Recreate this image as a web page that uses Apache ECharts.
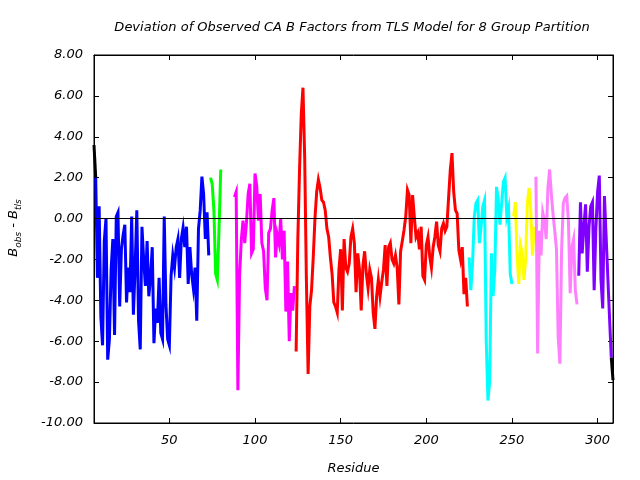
<!DOCTYPE html>
<html><head><meta charset="utf-8">
<script src="https://cdn.jsdelivr.net/npm/echarts@6/dist/echarts.min.js"></script>
<style>html,body{margin:0;padding:0;background:#fff}#c{width:640px;height:480px}</style>
</head><body><div id="c"></div>
<script>
const titleText = 'Deviation of Observed CA B Factors from TLS Model for 8 Group Partition';
const xName = 'Residue';
const xTickValues = [50, 100, 150, 200, 250, 300];
const xMin = 6, xMax = 309;
const yMin = -10, yMax = 8, yStep = 2;

const blackStartRes = 6;
const blackStartVals = [3.6, 2.0];
const blueStart = 7;
const blueVals = [2.0, -2.9, 0.6, -4.8, -6.2, -1.1, 0.0, -6.9, -5.9, -2.5, -1.0, -5.7,
  0.1, 0.3, -4.3, -1.5, -0.8, -0.3, -4.1, -2.4, -3.6, 0.1, -4.7, -2.4, 0.4, -5.0, -6.4,
  -0.4, -2.0, -3.3, -1.1, -3.8, -2.9, -1.4, -6.1, -4.4, -5.1, -2.9, -5.6, -5.9, 0.1,
  -4.2, -5.9, -6.2, -2.8, -1.8, -2.4, -1.4, -1.0, -2.9, -1.0, -0.45, -1.4, -0.4, -3.2,
  -1.4, -2.7, -3.4, -2.4, -5.0, -0.5, 0.4, 2.05, 1.2, -1.0, 0.3, -1.8];
const greenStart = 74;
const greenVals = [2.0, 1.7, 0.4, -2.7, -3.0, -0.5, 2.4];
const magentaStart = 88;
const magentaVals = [1.05, 1.3, -8.4, -2.8, -1.05, -0.1, -1.2, -0.2, 1.2, 1.7, -1.7, -1.5,
  2.2, 1.6, -0.1, 1.2, -1.2, -1.6, -3.4, -4.0, -0.7, -0.5, 0.4, 1.0, -1.9, -0.8, -1.2,
  0.0, -2.0, -0.6, -4.55, -2.1, -6.0, -3.65, -4.5, -3.3];
const redStart = 124;
const redVals = [-6.5, -1.0, 2.4, 5.1, 6.4, 3.0, -3.0, -7.6, -4.3, -3.5, -1.9, 0.0, 1.3,
  1.9, 1.5, 0.9, 0.8, 0.4, -0.5, -0.9, -1.9, -2.7, -4.1, -4.3, -4.6, -2.5, -1.5, -4.5,
  -1.0, -2.4, -2.6, -2.2, -0.9, -0.5, -1.2,
  -3.6, -1.7, -2.5, -4.5, -2.3, -1.6, -2.7, -3.4, -2.5, -2.9, -4.6, -5.4, -3.8, -3.0,
  -3.8, -3.1, -2.5, -1.3, -3.3, -1.4, -1.2, -2.0, -2.2, -1.8, -2.4, -4.2, -1.6, -1.1,
  -0.56, 0.1, 1.4, 1.15, -1.2, 1.15, 0.09, -0.9, -0.7, -1.5, -0.4, -2.8, -3.0, -1.3,
  -0.9, -1.85, -2.4, -1.4, -0.9, -0.15, -1.3, -1.6, -0.48, -0.24, -0.6, -0.4, 1.0, 2.37,
  3.2, 1.3, 0.41, 0.25, -1.54, -2.0, -1.4, -3.7, -2.9, -4.3];
const cyanStart = 225;
const cyanVals = [-1.9, -3.5, -2.2, 0.1, 0.75, 0.9, -1.2, -0.4, 0.6, 0.9, -6.0, -8.9, -8.0,
  -1.7, -3.8, -2.5, 1.55, 0.9, -0.3, 0.75, 1.8, 2.0, 0.1, 0.5, -2.7, -3.2];
const yellowStart = 251;
const yellowVals = [0.1, 0.8, -1.8, -3.2, -1.3, -1.7, -3.0, -2.0, 0.75, 1.5, 0.4, -1.8, -0.4];
const pinkStart = 264;
const pinkVals = [2.05, -6.6, -0.6, -1.8, 0.3, -0.1, -1.0, 1.5, 2.4, 1.2, 0.2, -0.6, -1.5,
  -5.8, -7.1, -1.5, 0.75, 1.0, 1.1, -0.2, -3.65, -1.4, -1.0, -3.5, -4.2];
const purpleStart = 289;
const purpleVals = [-2.8, 0.8, -1.7, -0.4, 0.7, -2.6, -0.4, 0.6, 0.8, -3.5, -0.5, 1.3, 2.1,
  -3.0, -4.4, 1.1, -0.9, -2.9, -4.9, -6.8];
const blackEndRes = 308;
const blackEndVals = [-6.8, -7.9];

const groups = [
  {name: 'ungrouped start', start: blackStartRes, vals: blackStartVals, color: '#000000'},
  {name: 'group 1', start: blueStart, vals: blueVals, color: '#0000ff'},
  {name: 'group 2', start: greenStart, vals: greenVals, color: '#00ff00'},
  {name: 'group 3', start: magentaStart, vals: magentaVals, color: '#ff00ff'},
  {name: 'group 4', start: redStart, vals: redVals, color: '#ff0000'},
  {name: 'group 5', start: cyanStart, vals: cyanVals, color: '#00ffff'},
  {name: 'group 6', start: yellowStart, vals: yellowVals, color: '#ffff00'},
  {name: 'group 7', start: pinkStart, vals: pinkVals, color: '#ff80ff'},
  {name: 'group 8', start: purpleStart, vals: purpleVals, color: '#8000ff'},
  {name: 'ungrouped end', start: blackEndRes, vals: blackEndVals, color: '#000000'}
];

const FONT = 'DejaVu Sans';
const labelStyle = {fontFamily: FONT, fontStyle: 'italic', fontSize: 13, color: '#000'};

const series = groups.map((g) => ({
  name: g.name,
  type: 'line',
  step: 'end',
  data: g.vals.map((v, i) => [g.start + i, v]),
  showSymbol: false,
  symbol: 'none',
  lineStyle: {color: g.color, width: 3, cap: 'butt', join: 'miter'},
  itemStyle: {color: g.color},
  animation: false,
  silent: true,
  z: 3
}));
series.unshift({
  name: 'zero', type: 'line', data: [], silent: true, animation: false, z: 2,
  markLine: {
    silent: true, symbol: ['none', 'none'], animation: false,
    label: {show: false},
    lineStyle: {color: '#000', width: 1, type: 'solid'},
    data: [{yAxis: 0}]
  }
});

const chart = echarts.init(document.getElementById('c'), null, {renderer: 'canvas'});
const tickInside = {show: true, inside: true, length: 5, lineStyle: {color: '#000', width: 1}};
chart.setOption({
  backgroundColor: '#ffffff',
  animation: false,
  title: {
    text: titleText, left: 352, top: 21, textAlign: 'center', padding: 0,
    textStyle: {fontFamily: FONT, fontStyle: 'italic', fontWeight: 'normal', fontSize: 13, color: '#000'}
  },
  grid: {left: 94, right: 27, top: 55, bottom: 57, show: true, borderColor: '#000', borderWidth: 1, backgroundColor: 'transparent', containLabel: false},
  xAxis: [{
    type: 'value', min: xMin, max: xMax, position: 'bottom',
    name: xName, nameLocation: 'middle', nameGap: 39,
    nameTextStyle: labelStyle,
    axisLine: {show: true, onZero: false, lineStyle: {color: '#000', width: 1}},
    axisTick: Object.assign({customValues: xTickValues}, tickInside),
    axisLabel: Object.assign({customValues: xTickValues, margin: 11}, labelStyle),
    splitLine: {show: false}
  }, {
    type: 'value', min: xMin, max: xMax, position: 'top',
    axisLine: {show: true, onZero: false, lineStyle: {color: '#000', width: 1}},
    axisTick: Object.assign({customValues: xTickValues}, tickInside),
    axisLabel: {show: false},
    splitLine: {show: false}
  }],
  yAxis: [{
    type: 'value', min: yMin, max: yMax, interval: yStep, position: 'left',
    axisLine: {show: true, onZero: false, lineStyle: {color: '#000', width: 1}},
    axisTick: tickInside,
    axisLabel: Object.assign({margin: 11, formatter: v => v.toFixed(2)}, labelStyle),
    splitLine: {show: false}
  }, {
    type: 'value', min: yMin, max: yMax, interval: yStep, position: 'right',
    axisLine: {show: true, onZero: false, lineStyle: {color: '#000', width: 1}},
    axisTick: tickInside,
    axisLabel: {show: false},
    splitLine: {show: false}
  }],
  graphic: [{
    type: 'text', x: 14, y: 228, rotation: Math.PI / 2,
    style: {
      text: '{b|B}{s|obs}{b| - B}{s|tls}',
      align: 'center', verticalAlign: 'middle',
      rich: {
        b: {fontFamily: FONT, fontStyle: 'italic', fontSize: 13, lineHeight: 19, verticalAlign: 'middle', fill: '#000'},
        s: {fontFamily: FONT, fontStyle: 'italic', fontSize: 9, lineHeight: 9, verticalAlign: 'bottom', fill: '#000'}
      }
    }
  }],
  series: series
});
</script>
</body></html>
